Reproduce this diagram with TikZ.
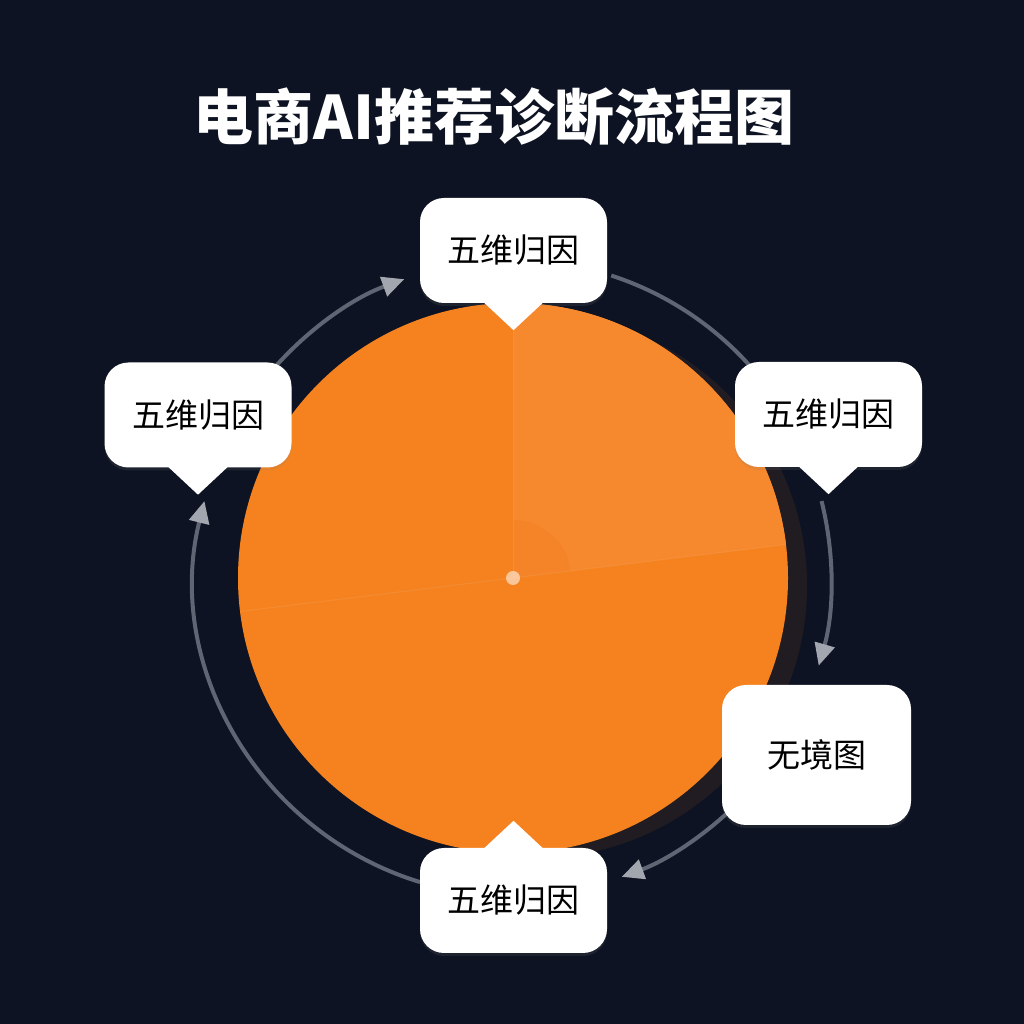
\documentclass[tikz,border=0pt]{standalone}
\usepackage{fontspec}
\newfontfamily\cjk{Noto Sans CJK SC}
\usetikzlibrary{arrows.meta,calc,shadows}
\definecolor{bg}{HTML}{0D1322}
\definecolor{org}{HTML}{F5821F}
\definecolor{orglight}{HTML}{F6882E}
\definecolor{orgdark}{HTML}{F37C1E}
\definecolor{ringc}{HTML}{5F6573}
\definecolor{tipc}{HTML}{A2A6AE}
\definecolor{circshadow}{HTML}{241D21}
\tikzset{
  x=1pt,y=1pt,
  card/.style={fill=white,rounded corners=24pt,minimum width=187pt,minimum height=105pt,
    inner sep=0pt,font=\cjk\fontsize{33}{36}\selectfont,text=black,
    drop shadow={opacity=0.15,shadow xshift=0pt,shadow yshift=-3pt}},
  bigcard/.style={card,minimum width=189pt,minimum height=140pt},
  ring/.style={draw=ringc,line width=4pt},
  ringarrow/.style={ring,-{Triangle[length=22pt,width=20pt,color=tipc]}},
  ptr/.style={fill=white}
}
\begin{document}
\begin{tikzpicture}
\fill[bg] (0,0) rectangle (1024,1024);
\useasboundingbox (0,0) rectangle (1024,1024);
\coordinate (C) at (513,446);
% title
\node[text=white,font=\cjk\bfseries\fontsize{60}{63}\selectfont] (title) at (494,907) {电商AI推荐诊断流程图};
% ring arcs
\draw[ringarrow] ($(C)+(139:318)$) arc[start angle=139,end angle=110,radius=318pt];
\draw[ring] ($(C)+(72:318)$) arc[start angle=72,end angle=30,radius=318pt];
\draw[ringarrow] ($(C)+(14:318)$) arc[start angle=14,end angle=-16,radius=318pt];
\draw[ringarrow] ($(C)+(-45:318)$) arc[start angle=-45,end angle=-70,radius=318pt];
\draw[ringarrow] ($(C)+(-107:318)$) arc[start angle=-107,end angle=-194,radius=318pt];
% circle shadow
\fill[circshadow,opacity=0.9] ($(C)+(22,-8)$) circle[radius=272pt];
% circle
\fill[org] (C) circle[radius=275pt];
\fill[orglight] (C) -- ($(C)+(90:275)$) arc[start angle=90,end angle=7,radius=275pt] -- cycle;
\fill[orgdark,opacity=0.3] (C) -- ($(C)+(90:58)$) arc[start angle=90,end angle=7,radius=58pt] -- cycle;
\draw[white,opacity=0.08,line width=1pt] ($(C)+(187:275)$) -- ($(C)+(7:275)$);
\draw[white,opacity=0.07,line width=1pt] (C) -- ($(C)+(90:275)$);
\fill[white,opacity=0.55] (C) circle[radius=7pt];
% cards
\node[card] (top) at (513.5,773.5) {五维归因};
\fill[ptr] ($(top.south)+(-30,1)$) -- ($(top.south)+(0,-27)$) -- ($(top.south)+(30,1)$) -- cycle;
\node[card] (right) at (828.5,609.5) {五维归因};
\fill[ptr] ($(right.south)+(-30,1)$) -- ($(right.south)+(0,-27)$) -- ($(right.south)+(30,1)$) -- cycle;
\node[card] (left) at (198,609) {五维归因};
\fill[ptr] ($(left.south)+(-30,1)$) -- ($(left.south)+(0,-27)$) -- ($(left.south)+(30,1)$) -- cycle;
\node[bigcard] (map) at (816.5,269) {无境图};
\node[card] (bottom) at (513.5,123.5) {五维归因};
\fill[ptr] ($(bottom.north)+(-30,-1)$) -- ($(bottom.north)+(0,27)$) -- ($(bottom.north)+(30,-1)$) -- cycle;
\end{tikzpicture}
\end{document}
